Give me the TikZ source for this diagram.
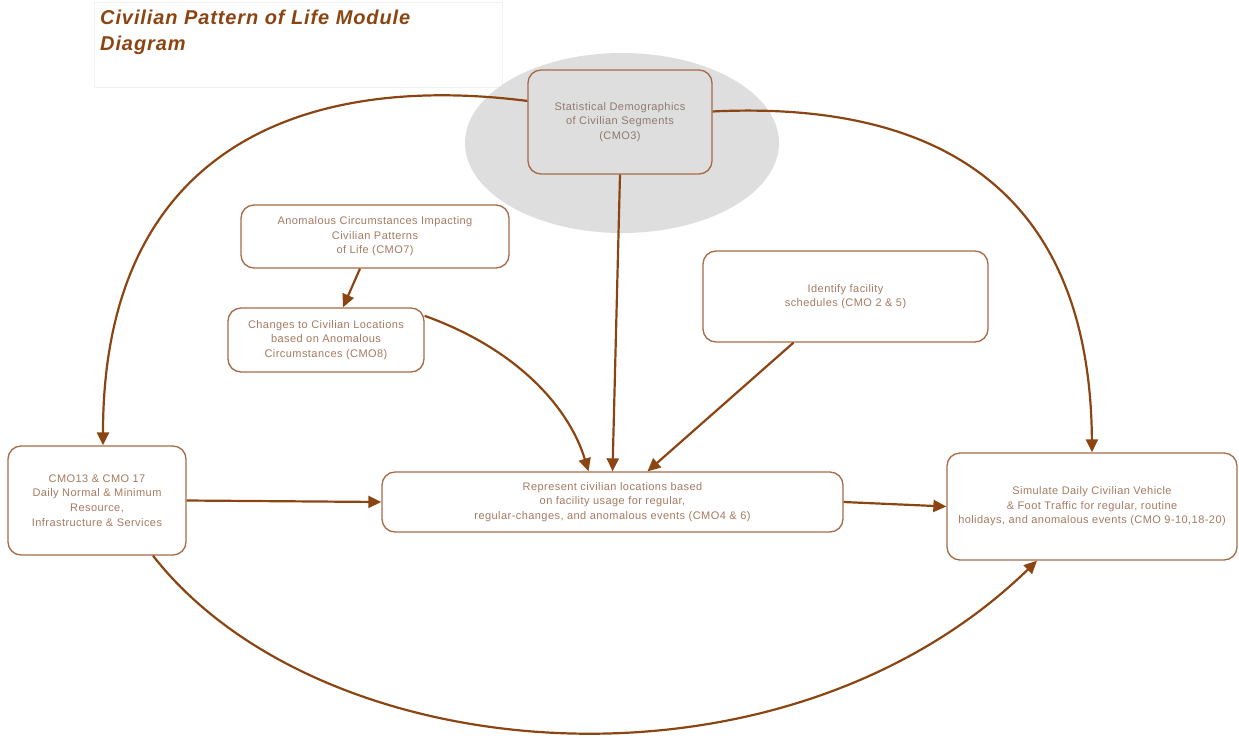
\documentclass[tikz,border=0pt]{standalone}
\usepackage{fontspec}
\setmainfont{Liberation Sans}
\usetikzlibrary{arrows.meta,calc}
\definecolor{arrc}{HTML}{8B4513}
\definecolor{boxc}{HTML}{A56A45}
\definecolor{txtc}{HTML}{A57A62}
\definecolor{stattxt}{HTML}{8F7A70}
\definecolor{titlec}{HTML}{8B4513}
\definecolor{ellc}{HTML}{DEDEDE}
\newfontfamily\nodefont[LetterSpace=4]{Liberation Sans}
\newfontfamily\titlefont[LetterSpace=4.5]{Liberation Sans}
\tikzset{
  box/.style={draw=boxc, line width=1.3pt, rounded corners=13pt, fill=white, align=center, inner sep=0pt,
    font=\nodefont\fontsize{11}{14.6}\selectfont, text=txtc},
  conn/.style={draw=arrc, line width=2.2pt, -{Triangle[length=13pt,width=12pt]}},
}
\begin{document}
\begin{tikzpicture}[x=1pt,y=-1pt]
\useasboundingbox (0,0) rectangle (1239,737);
% title frame
\draw[draw=black!5, fill=white] (94,2) rectangle (502,87);
\node[anchor=base west, inner sep=0pt, text=titlec, font=\titlefont\fontsize{20}{26}\selectfont\bfseries\itshape, align=left] (title) at (100,50) {Civilian Pattern of Life Module\\Diagram};
% ellipse
\fill[ellc] (622,143) ellipse [x radius=157pt, y radius=90pt];
% nodes
\node[box, fill=ellc, text=stattxt, minimum width=184pt, minimum height=104pt] (stat) at (620,122) {Statistical Demographics\\of Civilian Segments\\(CMO3)};
\node[box, minimum width=268pt, minimum height=63pt] (anom) at (375,236.5) {Anomalous Circumstances Impacting\\Civilian Patterns\\of Life (CMO7)};
\node[box, minimum width=196pt, minimum height=64pt] (chg) at (326,340) {Changes to Civilian Locations\\based on Anomalous\\Circumstances (CMO8)};
\node[box, minimum width=285pt, minimum height=91pt] (ident) at (845.5,296.5) {Identify facility\\schedules (CMO 2 \& 5)};
\node[box, minimum width=178pt, minimum height=109pt] (cmo) at (97,500.5) {CMO13 \& CMO 17\\Daily Normal \& Minimum\\Resource,\\Infrastructure \& Services};
\node[box, minimum width=461pt, minimum height=60pt] (rep) at (612.5,502) {Represent civilian locations based\\on facility usage for regular,\\regular-changes, and anomalous events (CMO4 \& 6)};
\node[box, minimum width=290pt, minimum height=107pt] (sim) at (1092,506.5) {Simulate Daily Civilian Vehicle\\\& Foot Traffic for regular, routine\\holidays, and anomalous events (CMO 9-10,18-20)};
% connectors
\coordinate (s1) at ($(stat.north west)!0.3!(stat.south west)$);
\coordinate (s2) at ($(stat.north east)!0.4!(stat.south east)$);
\coordinate (c1) at ($(cmo.north)+(6,0)$);
\draw[conn] (s1) .. controls (300,72) and (103,150) .. (c1);
\draw[conn] (s2) .. controls (950,100) and (1090,200) .. (sim.north);
\draw[conn] (stat.south) -- (rep.north);
\draw[conn] ($(anom.south)+(-15,0)$) -- ($(chg.north)+(17,0)$);
\coordinate (ch1) at ($(chg.north east)!0.13!(chg.south east)$);
\draw[conn] (ch1) .. controls (520,350) and (570,410) .. ($(rep.north)+(-24,0)$);
\draw[conn] ($(ident.south)+(-52,0)$) -- ($(rep.north)+(35,0)$);
\draw[conn] (cmo.east) -- (rep.west);
\draw[conn] (rep.east) -- (sim.west);
\draw[conn] ($(cmo.south)+(56,0)$) .. controls (320,770) and (780,810) .. ($(sim.south)+(-55,0)$);
\end{tikzpicture}
\end{document}
